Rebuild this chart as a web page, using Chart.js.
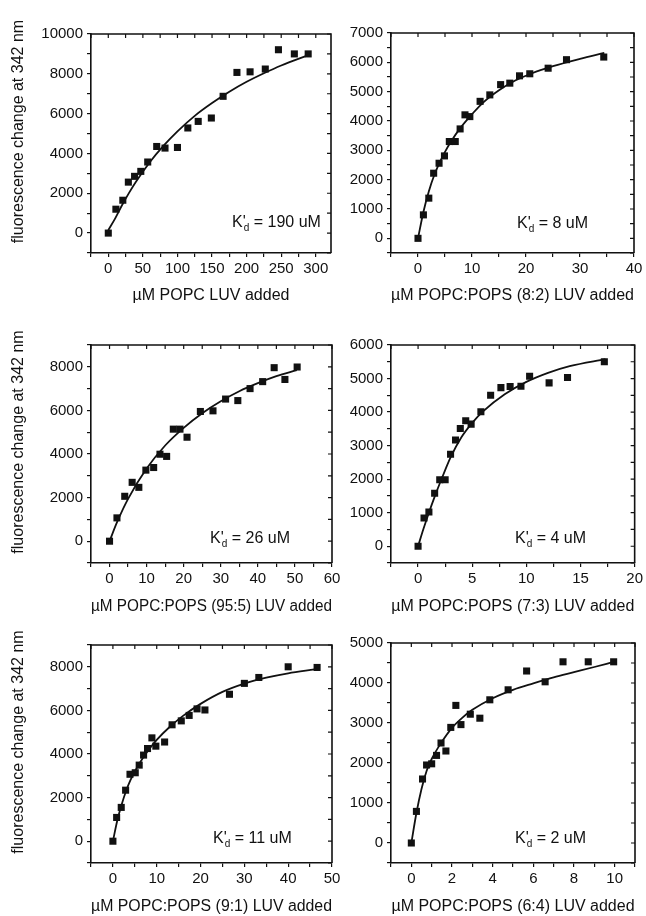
<!DOCTYPE html>
<html>
<head>
<meta charset="utf-8">
<title>LUV binding titrations</title>
<script src="https://cdn.jsdelivr.net/npm/chart.js@4.4.1/dist/chart.umd.min.js"></script>
<style>
  html, body { margin: 0; padding: 0; background: #fff; }
  body { position: relative; width: 646px; height: 916px; overflow: hidden; }
  canvas { position: absolute; }
</style>
</head>
<body>
<canvas id="p1" width="350" height="310" style="left:0;top:0"></canvas>
<canvas id="p2" width="296" height="310" style="left:350px;top:0"></canvas>
<canvas id="p3" width="350" height="306" style="left:0;top:310px"></canvas>
<canvas id="p4" width="296" height="306" style="left:350px;top:310px"></canvas>
<canvas id="p5" width="350" height="300" style="left:0;top:616px"></canvas>
<canvas id="p6" width="296" height="300" style="left:350px;top:616px"></canvas>
<script>
// values (uM lipid added vs. fluorescence change)

// POPC
const popcX = [0, 11, 21, 29, 38, 47, 57, 70, 82, 100, 115, 130, 149, 166, 186, 205, 227, 246, 269, 289];
const popcY = [0, 1200, 1650, 2560, 2850, 3100, 3570, 4350, 4270, 4300, 5280, 5610, 5780, 6870, 8070, 8100, 8240, 9210, 9000, 9000];
const popcFitX = [0, 10, 20, 30, 40, 60, 80, 100, 125, 150, 175, 200, 225, 250, 290];
const popcFitY = [150, 740, 1410, 2020, 2580, 3560, 4390, 5110, 5890, 6530, 7100, 7600, 8030, 8420, 8950];

// POPC:POPS 8:2
const ps82X = [0, 1, 2, 2.9, 3.9, 4.9, 5.8, 6.9, 7.8, 8.7, 9.6, 11.5, 13.3, 15.3, 17, 18.8, 20.7, 24.1, 27.5, 34.4];
const ps82Y = [0, 800, 1370, 2220, 2560, 2810, 3300, 3300, 3730, 4210, 4150, 4670, 4890, 5240, 5290, 5540, 5610, 5800, 6090, 6180];
const ps82FitX = [0, 1, 2, 3, 4, 5, 6, 8, 10, 12, 15, 18, 21, 25, 30, 34.5];
const ps82FitY = [0, 900, 1600, 2150, 2580, 2950, 3270, 3800, 4230, 4620, 5050, 5380, 5620, 5870, 6120, 6320];

// POPC:POPS 95:5
const ps955X = [0, 2, 4.1, 6.1, 7.9, 9.8, 11.9, 13.6, 15.4, 17.2, 19, 20.9, 24.5, 27.9, 31.3, 34.6, 37.9, 41.3, 44.4, 47.3, 50.6];
const ps955Y = [0, 1070, 2060, 2700, 2470, 3260, 3380, 3990, 3890, 5140, 5140, 4770, 5950, 5980, 6520, 6450, 7000, 7320, 7960, 7420, 7990];
const ps955FitX = [0, 2, 5, 10, 15, 20, 25, 30, 35, 40, 45, 50.5];
const ps955FitY = [0, 860, 1940, 3330, 4390, 5200, 5870, 6420, 6880, 7250, 7570, 7850];

// POPC:POPS 7:3
const ps73X = [0, 0.55, 1, 1.53, 2, 2.5, 3, 3.46, 3.9, 4.4, 4.9, 5.8, 6.7, 7.65, 8.5, 9.5, 10.3, 12.1, 13.8, 17.2];
const ps73Y = [0, 840, 1020, 1580, 1980, 1980, 2740, 3170, 3510, 3740, 3640, 4010, 4500, 4730, 4760, 4770, 5070, 4870, 5030, 5500];
const ps73FitX = [0, 0.5, 1, 1.5, 2, 2.5, 3, 4, 5, 6, 8, 10, 12, 14, 17.3];
const ps73FitY = [0, 520, 1000, 1450, 1870, 2270, 2650, 3250, 3680, 4020, 4530, 4900, 5170, 5370, 5580];

// POPC:POPS 9:1
const ps91X = [0, 0.85, 1.9, 2.9, 3.9, 5.1, 6, 7, 7.9, 8.9, 9.8, 11.8, 13.5, 15.6, 17.4, 19.2, 21, 26.6, 30, 33.3, 40, 46.6];
const ps91Y = [0, 1090, 1550, 2340, 3070, 3140, 3490, 3950, 4250, 4740, 4360, 4550, 5340, 5520, 5770, 6070, 6020, 6740, 7240, 7510, 8000, 7970];
const ps91FitX = [0, 1, 2, 3, 4, 6, 8, 10, 13, 16, 20, 25, 30, 35, 40, 46];
const ps91FitY = [0, 950, 1680, 2300, 2800, 3550, 4150, 4650, 5250, 5750, 6300, 6850, 7230, 7500, 7700, 7880];

// POPC:POPS 6:4
const ps64X = [0, 0.25, 0.55, 0.75, 1, 1.24, 1.46, 1.7, 1.94, 2.19, 2.44, 2.9, 3.37, 3.86, 4.76, 5.67, 6.58, 7.46, 8.7, 9.95];
const ps64Y = [0, 790, 1600, 1950, 1980, 2190, 2500, 2300, 2890, 3440, 2960, 3220, 3120, 3580, 3830, 4300, 4030, 4530, 4530, 4530];
const ps64FitX = [0, 0.25, 0.5, 0.75, 1, 1.5, 2, 2.5, 3, 4, 5, 6, 7, 8, 9, 9.9];
const ps64FitY = [0, 750, 1350, 1800, 2100, 2530, 2880, 3130, 3330, 3620, 3830, 3990, 4140, 4270, 4400, 4520];

const yTitle = "fluorescence change at 342 nm";
const xTitles = [
  "\u00b5M POPC LUV added",
  "\u00b5M POPC:POPS (8:2) LUV added",
  "\u00b5M POPC:POPS (95:5) LUV added",
  "\u00b5M POPC:POPS (7:3) LUV added",
  "\u00b5M POPC:POPS (9:1) LUV added",
  "\u00b5M POPC:POPS (6:4) LUV added"
];
const kdValues = ["190", "8", "26", "4", "11", "2"];

// axis ranges: [min, max, minor step, labelled step]
const xRanges = [[-25, 322, 25, 50], [-5, 40, 5, 10], [-5, 60, 5, 10], [-2.5, 20, 2.5, 5], [-5, 50, 5, 10], [-1, 11, 1, 2]];
const yRanges = [[-1000, 10000, 1000, 2000], [-500, 7000, 500, 1000], [-1000, 9000, 1000, 2000], [-500, 6000, 500, 1000], [-1000, 9000, 1000, 2000], [-500, 5000, 500, 1000]];

const INK = "#111";
const FONT = "'Liberation Sans', Arial, Helvetica, sans-serif";
Chart.defaults.font.family = FONT;
Chart.defaults.color = INK;

// layout: padding top/right, y axis width, x axis height, title bottom pad, kd text offset
const layouts = [
  { top: 34, right: 19, yW: 91, xH: 57, tPad: 5, kd: [141, 26], left: true },
  { top: 33, right: 12, yW: 41, xH: 57, tPad: 5, kd: [126, 25], left: false },
  { top: 35, right: 18, yW: 91, xH: 53, tPad: 0, kd: [119, 20], left: true },
  { top: 35, right: 11, yW: 41, xH: 53, tPad: 0, kd: [124, 20], left: false },
  { top: 29, right: 18, yW: 91, xH: 53, tPad: 0, kd: [122, 20], left: true },
  { top: 27, right: 11, yW: 41, xH: 53, tPad: 0, kd: [124, 20], left: false }
];

const series = [
  [popcX, popcY, popcFitX, popcFitY],
  [ps82X, ps82Y, ps82FitX, ps82FitY],
  [ps955X, ps955Y, ps955FitX, ps955FitY],
  [ps73X, ps73Y, ps73FitX, ps73FitY],
  [ps91X, ps91Y, ps91FitX, ps91FitY],
  [ps64X, ps64Y, ps64FitX, ps64FitY]
];

const pairs = (xs, ys) => xs.map((x, i) => ({ x: x, y: ys[i] }));

const labelEvery = (major) => (v) => {
  const q = v / major;
  return v >= 0 && Math.abs(q - Math.round(q)) < 1e-6 ? String(Math.round(v * 100) / 100) : "";
};

// top/right frame with inward ticks, K'd note, rotated y title
const framePlugin = {
  id: "frame",
  afterDraw(chart, args, opts) {
    const { ctx, chartArea: a, scales } = chart;
    const x = scales.x, y = scales.y;
    ctx.save();
    ctx.strokeStyle = INK;
    ctx.lineWidth = 1.6;
    ctx.beginPath();
    ctx.moveTo(a.left, a.top);
    ctx.lineTo(a.right, a.top);
    ctx.lineTo(a.right, a.bottom);
    ctx.stroke();

    ctx.lineWidth = 1.2;
    ctx.beginPath();
    x.ticks.forEach(t => {
      const px = x.getPixelForValue(t.value);
      ctx.moveTo(px, a.top);
      ctx.lineTo(px, a.top + 4);
    });
    y.ticks.forEach(t => {
      const py = y.getPixelForValue(t.value);
      ctx.moveTo(a.right, py);
      ctx.lineTo(a.right - 4, py);
    });
    ctx.stroke();

    // K'd = ... uM
    ctx.fillStyle = INK;
    ctx.textAlign = "left";
    ctx.textBaseline = "alphabetic";
    let kx = a.left + opts.kd[0];
    const ky = a.bottom - opts.kd[1];
    ctx.font = "16px " + FONT;
    ctx.fillText("K'", kx, ky);
    kx += ctx.measureText("K'").width - 2;
    ctx.font = "10px " + FONT;
    ctx.fillText("d", kx, ky + 4);
    kx += ctx.measureText("d").width;
    ctx.font = "16px " + FONT;
    ctx.fillText(" = " + opts.kdText + " uM", kx, ky);

    if (opts.left) {
      ctx.translate(19, (a.top + a.bottom) / 2 - 12);
      ctx.rotate(-Math.PI / 2);
      ctx.textAlign = "center";
      ctx.textBaseline = "middle";
      ctx.font = "16px " + FONT;
      ctx.fillText(yTitle, 0, 0);
    }
    ctx.restore();
  }
};

function makePanel(i) {
  const [xs, ys, fx, fy] = series[i];
  const L = layouts[i];
  const xr = xRanges[i], yr = yRanges[i];
  return new Chart(document.getElementById("p" + (i + 1)), {
    type: "scatter",
    data: {
      datasets: [
        {
          data: pairs(xs, ys),
          pointStyle: "rect",
          pointRadius: 5,
          backgroundColor: INK,
          borderColor: INK,
          borderWidth: 0
        },
        {
          data: pairs(fx, fy),
          showLine: true,
          pointRadius: 0,
          borderColor: INK,
          borderWidth: 1.8,
          cubicInterpolationMode: "monotone"
        }
      ]
    },
    options: {
      responsive: false,
      animation: false,
      layout: { padding: { top: L.top, right: L.right, left: 0, bottom: 0 } },
      plugins: {
        legend: { display: false },
        tooltip: { enabled: false },
        frame: { kd: L.kd, kdText: kdValues[i], left: L.left }
      },
      scales: {
        x: {
          type: "linear",
          min: xr[0],
          max: xr[1],
          afterFit(s) { s.height = L.xH; },
          ticks: {
            stepSize: xr[2],
            includeBounds: false,
            autoSkip: false,
            maxRotation: 0,
            padding: 3,
            font: { size: 15 },
            callback: labelEvery(xr[3])
          },
          grid: { drawOnChartArea: false, tickLength: 4, color: INK, lineWidth: 1.2 },
          border: { display: true, color: INK, width: 1.6 },
          title: {
            display: true,
            text: xTitles[i],
            font: { size: 16 },
            padding: { top: 0, bottom: L.tPad }
          }
        },
        y: {
          type: "linear",
          min: yr[0],
          max: yr[1],
          afterFit(s) { s.width = L.yW; },
          ticks: {
            stepSize: yr[2],
            includeBounds: false,
            autoSkip: false,
            padding: 4,
            font: { size: 15 },
            callback: labelEvery(yr[3])
          },
          grid: { drawOnChartArea: false, tickLength: 4, color: INK, lineWidth: 1.2 },
          border: { display: true, color: INK, width: 1.6 }
        }
      }
    },
    plugins: [framePlugin]
  });
}

for (let i = 0; i < 6; i++) makePanel(i);
</script>
</body>
</html>
